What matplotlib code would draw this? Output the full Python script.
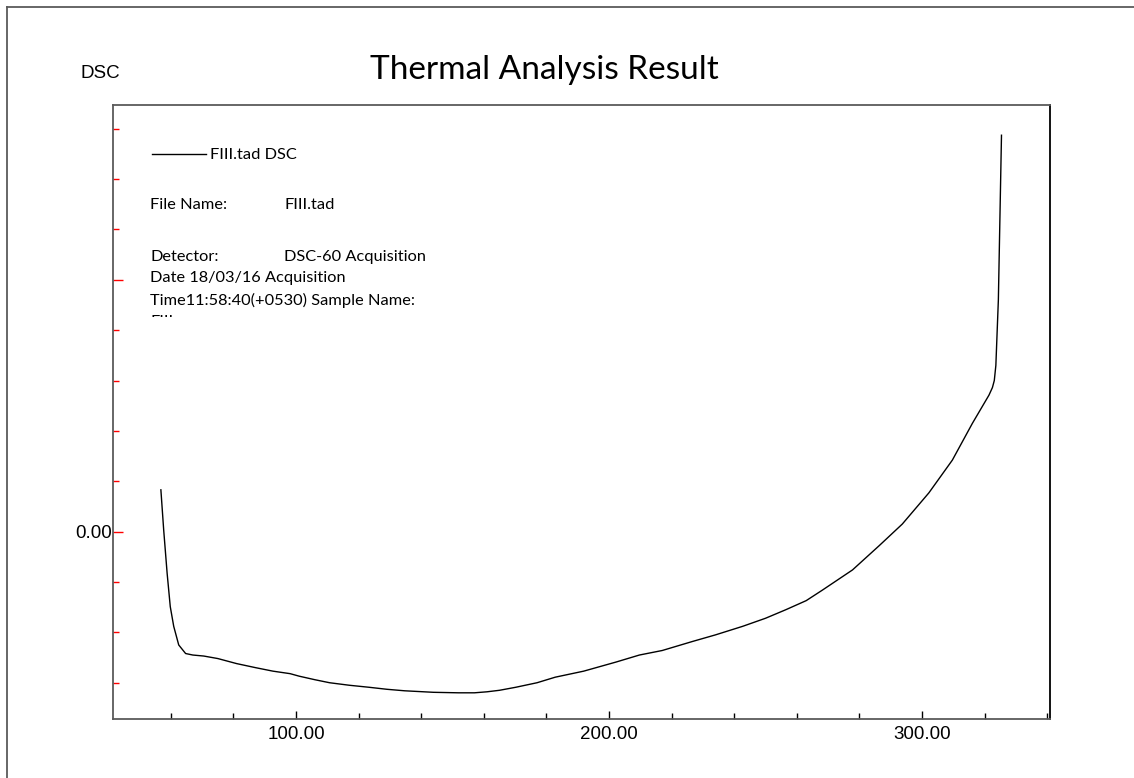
import matplotlib
matplotlib.use('Agg')
import matplotlib.pyplot as plt
from matplotlib.ticker import FixedLocator, FixedFormatter, MultipleLocator
from matplotlib.patches import Rectangle

# DSC trace: temperature (C) vs heat flow
temp = [56.8, 57.7, 58.8, 59.8, 60.9, 62.5, 64.7, 67.0, 70.5, 75.0,
        81.0, 87.0, 92.6, 98.1, 101.0, 106.0, 110.7, 117.0, 123.3, 129.0,
        134.7, 143.9, 151.9, 157.0, 161.0, 165.0, 170.2, 177.0, 182.8, 191.9,
        202.2, 209.7, 217.0, 226.7, 234.0, 242.7, 250.0, 256.5, 263.0, 268.2,
        277.8, 286.3, 293.7, 302.2, 309.7, 316.1, 321.4, 322.5, 323.1, 323.6,
        324.4, 325.4]
dsc = [0.83, 0.03, -0.83, -1.49, -1.88, -2.25, -2.42, -2.45, -2.47, -2.52,
       -2.62, -2.70, -2.77, -2.82, -2.87, -2.94, -3.00, -3.05, -3.09, -3.13,
       -3.16, -3.19, -3.20, -3.20, -3.18, -3.15, -3.09, -3.00, -2.89, -2.77,
       -2.59, -2.45, -2.36, -2.18, -2.05, -1.88, -1.72, -1.55, -1.37, -1.16,
       -0.76, -0.28, 0.15, 0.77, 1.42, 2.15, 2.71, 2.86, 3.00, 3.30,
       4.60, 7.87]

x_major = [100, 200, 300]
x_labels = ['100.00', '200.00', '300.00']
y_major = [0, 5]
y_labels = ['0.00', '']

info_lines = [
    ('File Name:', 'FIII.tad'),
    ('Detector:', 'DSC-60 Acquisition'),
]
extra_lines = ['Date 18/03/16 Acquisition', 'Time11:58:40(+0530) Sample Name:']

W, H = 1134, 778
fig = plt.figure(figsize=(W / 100, H / 100), dpi=100)
TXT = 'Lato'
TICKF = 'Liberation Sans'
FS = 11.8

# outer frame (top + left only)
fig.add_artist(plt.Line2D([7 / W, 1], [1 - 7 / H, 1 - 7 / H], transform=fig.transFigure,
                          color='#5a5a5a', lw=1.3))
fig.add_artist(plt.Line2D([7 / W, 7 / W], [0, 1 - 7 / H], transform=fig.transFigure,
                          color='#5a5a5a', lw=1.3))

ax = fig.add_axes([113 / W, 1 - 719 / H, (1050 - 113) / W, (719 - 105) / H])
ax.plot(temp, dsc, color='black', lw=1.0)
ax.set_xlim(41.5, 340.9)
ax.set_ylim(-3.72, 8.47)

for side in ['top', 'left', 'bottom']:
    ax.spines[side].set_color('#5a5a5a')
    ax.spines[side].set_linewidth(1.3)
ax.spines['right'].set_color('black')
ax.spines['right'].set_linewidth(1.3)

ax.xaxis.set_major_locator(FixedLocator(x_major))
ax.xaxis.set_major_formatter(FixedFormatter(x_labels))
ax.xaxis.set_minor_locator(MultipleLocator(20))
ax.tick_params(axis='x', which='major', direction='in', length=6, width=1,
               color='black', labelsize=13.5, pad=5)
ax.tick_params(axis='x', which='minor', direction='in', length=4, width=1, color='black')

ax.yaxis.set_major_locator(FixedLocator(y_major))
ax.yaxis.set_major_formatter(FixedFormatter(y_labels))
ax.yaxis.set_minor_locator(MultipleLocator(1))
ax.tick_params(axis='y', which='major', direction='in', length=7, width=1,
               color='red', labelsize=13.5, pad=1)
ax.tick_params(axis='y', which='minor', direction='in', length=4, width=1, color='red')
for lab in ax.get_xticklabels() + ax.get_yticklabels():
    lab.set_fontfamily(TICKF)

fig.text(80 / W, 1 - 73 / H, 'DSC', fontsize=13.5, family=TICKF, va='center', ha='left')
fig.text(544 / W, 1 - 70 / H, 'Thermal Analysis Result', fontsize=24, family=TXT,
         va='center', ha='center')

# legend entry
fig.add_artist(plt.Line2D([152 / W, 206 / W], [1 - 154 / H, 1 - 154 / H],
                          transform=fig.transFigure, color='black', lw=1.0))
fig.text(210 / W, 1 - 155 / H, 'FIII.tad DSC', fontsize=FS, family=TXT, va='center')

# sample info block
rows_y = [205, 257]
for (k, v), y in zip(info_lines, rows_y):
    fig.text(150 / W, 1 - y / H, k, fontsize=FS, family=TXT, va='center')
    fig.text(284 / W, 1 - y / H, v, fontsize=FS, family=TXT, va='center')
for s, y in zip(extra_lines, [278, 300]):
    fig.text(150 / W, 1 - y / H, s, fontsize=FS, family=TXT, va='center')

# last line is cut off by the box edge
clip = Rectangle((140 / W, 1 - 317 / H), 300 / W, 10 / H, transform=fig.transFigure)
t = fig.text(150 / W, 1 - 322 / H, 'FIII', fontsize=FS, family=TXT, va='center')
t.set_clip_path(clip)

fig.savefig('out.png', dpi=100)
